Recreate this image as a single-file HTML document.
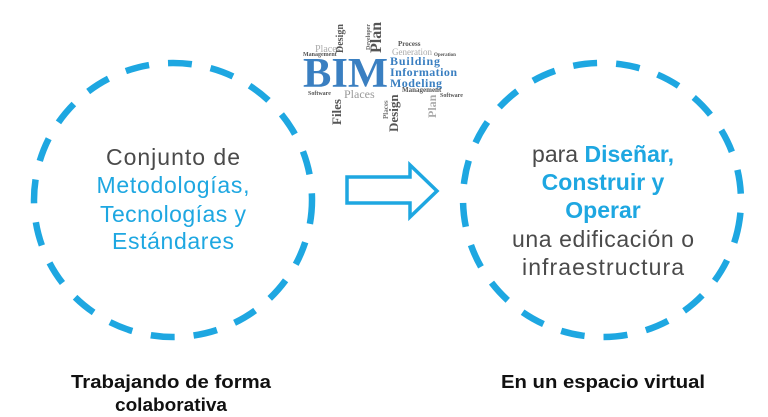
<!DOCTYPE html>
<html><head><meta charset="utf-8"><style>
html,body{margin:0;padding:0;background:#fff;}
svg{display:block;}
</style></head><body>
<svg width="768" height="417" viewBox="0 0 768 417" xmlns="http://www.w3.org/2000/svg">
<g fill="none" stroke="#1ea7e1" stroke-width="6.5">
<ellipse cx="173" cy="200" rx="139" ry="137" stroke-dasharray="24 19"/>
<ellipse cx="602" cy="200" rx="139" ry="137" stroke-dasharray="24 19" transform="rotate(8 602 200)"/>
<path d="M347 177 H410 V165 L437 191 L410 217 V203 H347 Z" stroke-width="3.5" stroke-linejoin="miter"/>
</g>
<g font-family="Liberation Sans, sans-serif" font-size="23" text-anchor="middle">
<text x="173" y="165" fill="#4a4a4a" textLength="134">Conjunto de</text>
<text x="173" y="193" fill="#1ea7e1" textLength="153">Metodologías,</text>
<text x="173" y="222" fill="#1ea7e1" textLength="146">Tecnologías y</text>
<text x="173" y="249" fill="#1ea7e1" textLength="122">Estándares</text>
<text x="603" y="162" fill="#4a4a4a">para <tspan fill="#1ea7e1" font-weight="bold">Diseñar,</tspan></text>
<text x="603" y="190" fill="#1ea7e1" font-weight="bold">Construir y</text>
<text x="603" y="218" fill="#1ea7e1" font-weight="bold">Operar</text>
<text x="603" y="247" fill="#4a4a4a" textLength="182">una edificación o</text>
<text x="603" y="275" fill="#4a4a4a" textLength="162">infraestructura</text>
</g>
<g font-family="Liberation Sans, sans-serif" font-size="18" fill="#111" text-anchor="middle" font-weight="bold">
<text x="171" y="388" textLength="200" lengthAdjust="spacingAndGlyphs">Trabajando de forma</text>
<text x="171" y="411" textLength="112" lengthAdjust="spacingAndGlyphs">colaborativa</text>
<text x="603" y="388" textLength="204" lengthAdjust="spacingAndGlyphs">En un espacio virtual</text>
</g>
<g font-family="Liberation Serif, serif" font-weight="bold">
<text x="303" y="87" font-size="42" fill="#3a7fc1" textLength="85" lengthAdjust="spacingAndGlyphs">BIM</text>
<text x="390" y="65" font-size="12" fill="#3a7fc1" textLength="50">Building</text>
<text x="390" y="76" font-size="12" fill="#3a7fc1" textLength="67">Information</text>
<text x="390" y="87" font-size="12" fill="#3a7fc1" textLength="52">Modeling</text>
<text x="315" y="52" font-size="10" fill="#aaa" font-weight="normal">Places</text>
<text x="303" y="56" font-size="6" fill="#555">Management</text>
<text x="343" y="53" font-size="10" fill="#555" transform="rotate(-90 343 53)">Design</text>
<text x="381" y="53" font-size="16" fill="#555" transform="rotate(-90 381 53)">Plan</text>
<text x="370" y="50" font-size="6" fill="#666" transform="rotate(-90 370 50)">Developer</text>
<text x="398" y="46" font-size="7" fill="#555">Process</text>
<text x="392" y="55" font-size="9" fill="#aaa" font-weight="normal">Generation</text>
<text x="308" y="95" font-size="6" fill="#555">Software</text>
<text x="344" y="98" font-size="12" fill="#999" font-weight="normal">Places</text>
<text x="341" y="125" font-size="13" fill="#555" transform="rotate(-90 341 125)">Files</text>
<text x="398" y="132" font-size="13" fill="#555" transform="rotate(-90 398 132)">Design</text>
<text x="388" y="119" font-size="7" fill="#777" transform="rotate(-90 388 119)">Places</text>
<text x="402" y="92" font-size="7" fill="#555">Management</text>
<text x="440" y="97" font-size="6" fill="#555">Software</text>
<text x="436" y="118" font-size="12" fill="#aaa" transform="rotate(-90 436 118)">Plan</text>
<text x="434" y="56" font-size="5" fill="#555">Operation</text>
</g>
</svg>
</body></html>
